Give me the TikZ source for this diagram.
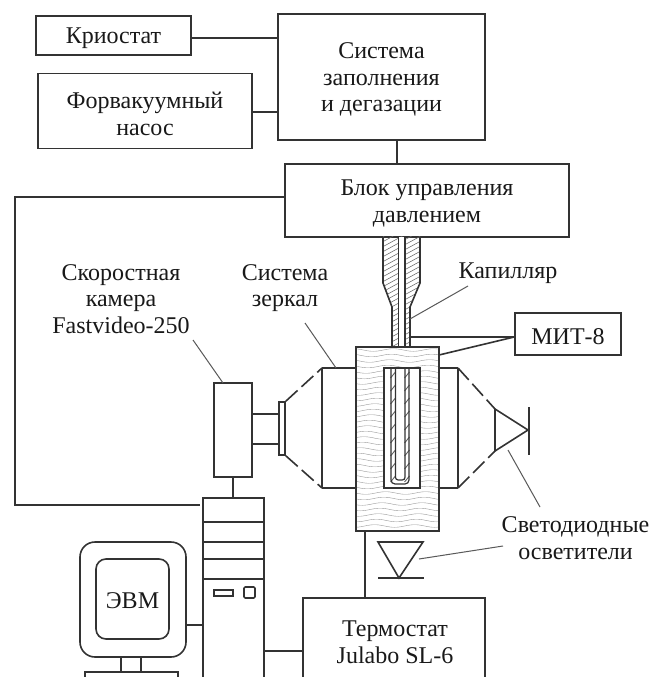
\documentclass[tikz,border=0pt]{standalone}
\usepackage{fontspec}
\setmainfont{Liberation Serif}
\tikzset{
  ln/.style={line width=1.2pt,draw=black!80},
  thinln/.style={line width=0.75pt,draw=black!65},
  box/.style={ln,inner sep=0pt},
  lbl/.style={inner sep=0pt,align=center,font=\fontsize{18}{20}\selectfont,text=black!90},
  hat/.style={line width=0.4pt,draw=black!60},
  wav/.style={line width=0.3pt,draw=black!40},
  dsh/.style={ln,dash pattern=on 12pt off 4pt},
}
\newcommand{\pbox}[6]{\node[box,minimum width=#4*0.75pt,minimum height=#5*0.75pt] (#1) at (#2,#3) {};\node[lbl] (#1txt) at ([yshift=-2pt]#1.center) {#6};}
\begin{document}
\begin{tikzpicture}[x=0.75pt,y=-0.75pt]
\useasboundingbox (0,0) rectangle (650,677);
\fill[white] (0,0) rectangle (650,677);
% top boxes
\pbox{kr}{113.5}{35.5}{155}{39}{Криостат}
\pbox{sys}{381.5}{77}{207}{126}{Система\\заполнения\\и дегазации}
\pbox{fv}{145}{111}{214}{75}{Форвакуумный\\насос}
\pbox{blk}{427}{200.5}{284}{73}{Блок управления\\давлением}
\pbox{mit}{568}{334}{106}{42}{МИТ-8}
\draw[ln] (kr.east |- 0,38) -- (sys.west |- 0,38);
\draw[ln] (fv.east |- 0,112) -- (sys.west |- 0,112);
\draw[ln] (397,140) -- (397,164);
% capillary holder
\begin{scope}
\clip (383,236) -- (420,236) -- (420,283) -- (410,307) -- (410,347) -- (392,347) -- (392,307) -- (383,283) -- cycle;
\foreach \k in {0,5,...,150} {\draw[hat] (375,236+\k) -- (430,236+\k-30);}
\end{scope}
\fill[white] (399,237) rectangle (404.5,347);
\draw[ln] (383,237) -- (383,283) -- (392,307) -- (392,347);
\draw[ln] (420,237) -- (420,283) -- (410,307) -- (410,347);
\draw[ln,line width=0.9pt] (398.5,237) -- (398.5,347);
\draw[ln,line width=0.9pt] (405,237) -- (405,347);
% optics
\coordinate (lt) at (322,368); \coordinate (lb) at (322,488);
\coordinate (rt) at (458,368); \coordinate (rb) at (458,488);
\draw[ln] (lt) -- (356,368) (lb) -- (356,488) (lt) -- (lb);
\draw[ln] (rt) -- (439,368) (rb) -- (439,488) (rt) -- (rb);
\pbox{lens}{282}{428.5}{6}{53}{}
\pbox{cam}{233}{430}{38}{94}{}
\draw[ln] (cam.east |- 0,414) -- (lens.west |- 0,414);
\draw[ln] (cam.east |- 0,444) -- (lens.west |- 0,444);
\draw[dsh] (lens.north east) -- (lt);
\draw[dsh] (lens.south east) -- (lb);
\coordinate (tt) at (495,409); \coordinate (tb) at (495,451); \coordinate (ta) at (528,430);
\draw[ln] (tt) -- (tb) -- (ta) -- cycle;
\draw[ln] (529,407) -- (529,455);
\draw[dsh] (rt) -- (tt);
\draw[dsh] (rb) -- (tb);
% thermostat block
\begin{scope}
\clip (356,347) rectangle (439,531);
\foreach \yy in {350,355.5,...,532} {
  \draw[wav,domain=356:439,samples=40,smooth] plot (\x,{\yy+1.3*sin(9*\x+3*\yy)});
}
\end{scope}
\node[ln,minimum width=83*0.75pt,minimum height=184*0.75pt,inner sep=0pt] (bath) at (397.5,439) {};
\node[ln,fill=white,minimum width=36*0.75pt,minimum height=120*0.75pt,inner sep=0pt] (cell) at (402,428) {};
% U tube
\begin{scope}
\clip (390,368) rectangle (410,485);
\foreach \k in {0,13,...,110} {
  \draw[hat,line width=0.7pt] (390.5,378+\k) -- (395.5,372+\k);
  \draw[hat,line width=0.7pt] (404.5,378+\k) -- (409.5,372+\k);
}
\end{scope}
\draw[ln,line width=0.9pt,rounded corners=3pt] (391,368) -- (391,484) -- (409,484) -- (409,368);
\draw[ln,line width=0.9pt,rounded corners=2pt] (395.5,368) -- (395.5,480) -- (405,480) -- (405,368);
% MIT connections
\draw[ln] (410,337) -- (mit.west |- 0,337);
\draw[ln] (439,355) -- (mit.west |- 0,337);
% lower triangle
\draw[ln] (378,542) -- (423,542) -- (399,578) -- cycle;
\draw[ln] (378,578) -- (424,578);
% computer
\node[ln,minimum width=61*0.75pt,minimum height=200*0.75pt,inner sep=0pt] (tower) at (233.5,598) {};
\foreach \yy in {522,542,559,579} {\draw[ln] (203,\yy) -- (264,\yy);}
\draw[ln] (214,590) rectangle (233,596);
\draw[ln,rounded corners=1pt] (244,587) rectangle (255,598);
\draw[ln] (cam.south) -- (cam.south |- tower.north);
\node[ln,rounded corners=15*0.75pt,minimum width=106*0.75pt,minimum height=115*0.75pt,inner sep=0pt] (mon) at (133,599.5) {};
\node[ln,rounded corners=10*0.75pt,minimum width=73*0.75pt,minimum height=80*0.75pt,inner sep=0pt] (scr) at (132.5,599) {};
\node[lbl] (scrtxt) at ([yshift=-1.5pt]scr.center) {ЭВМ};
\draw[ln] (mon.east |- 0,625) -- (tower.west |- 0,625);
\draw[ln] (121,657) -- (121,672);
\draw[ln] (141,657) -- (141,672);
\draw[ln] (85,685) -- (85,672) -- (178,672) -- (178,685);
% thermostat
\node[ln,minimum width=182*0.75pt,minimum height=100*0.75pt,inner sep=0pt] (th) at (394,648) {};
\node[lbl] (thl) at (395,642) {Термостат\\Julabo SL-6};
\draw[ln] (tower.east |- 0,651) -- (th.west |- 0,651);
\draw[ln] (365,531) -- (365,598);
% long cable
\coordinate (c1) at (15,197); \coordinate (c2) at (15,505); \coordinate (c3) at (200,505);
\draw[ln] (blk.west |- c1) -- (c1) -- (c2) -- (c3);
% labels
\node[lbl] (lcam) at (121,299) {Скоростная\\камера\\Fastvideo-250};
\node[lbl] (lmir) at (285,288) {Система\\зеркал};
\node[lbl] (lcap) at (508,273) {Капилляр};
\node[lbl] (lled) at (575.5,538) {Светодиодные\\осветители};
% leaders
\coordinate (a1) at (193,340); \coordinate (a2) at (223,383);
\coordinate (b1) at (305,323); \coordinate (b2) at (336,368);
\coordinate (d1) at (468,286); \coordinate (d2) at (410,319);
\coordinate (e1) at (540,507); \coordinate (e2) at (508,450);
\coordinate (f1) at (503,546); \coordinate (f2) at (419,559);
\draw[thinln] (a1) -- (a2);
\draw[thinln] (b1) -- (b2);
\draw[thinln] (d1) -- (d2);
\draw[thinln] (e1) -- (e2);
\draw[thinln] (f1) -- (f2);
\end{tikzpicture}
\end{document}
